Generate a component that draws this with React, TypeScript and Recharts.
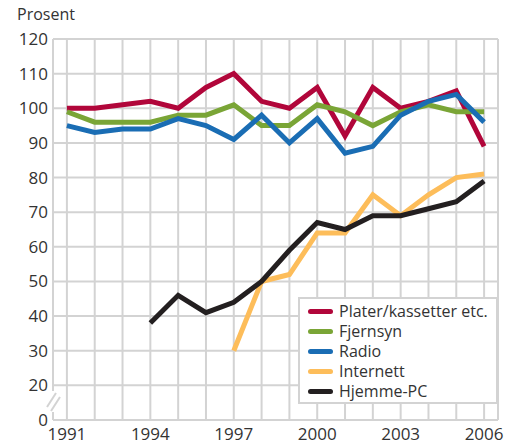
import React from 'react';
import { LineChart, Line, XAxis, YAxis, CartesianGrid } from 'recharts';

const years = [1991, 1992, 1993, 1994, 1995, 1996, 1997, 1998, 1999, 2000, 2001, 2002, 2003, 2004, 2005, 2006];
const plater = [100, 100, 101, 102, 100, 106, 110, 102, 100, 106, 92, 106, 100, 102, 105, 89];
const fjernsyn = [99, 96, 96, 96, 98, 98, 101, 95, 95, 101, 99, 95, 99, 101, 99, 99];
const radio = [95, 93, 94, 94, 97, 95, 91, 98, 90, 97, 87, 89, 98, 102, 104, 96];
const internett = [null, null, null, null, null, null, 30, 50, 52, 64, 64, 75, 69, 75, 80, 81];
const hjemmePc = [null, null, null, 38, 46, 41, 44, 50, 59, 67, 65, 69, 69, 71, 73, 79];

// bottom tick "0" sits where 10 would be (broken axis)
const yTicks = [10, 20, 30, 40, 50, 60, 70, 80, 90, 100, 110, 120];
const xLabels = [1991, 1994, 1997, 2000, 2003, 2006];

const series = [
  { key: 'plater', name: 'Plater/kassetter etc.', color: '#b1063a' },
  { key: 'fjernsyn', name: 'Fjernsyn', color: '#7aa536' },
  { key: 'radio', name: 'Radio', color: '#1a6db4' },
  { key: 'internett', name: 'Internett', color: '#fdbd5a' },
  { key: 'hjemmePc', name: 'Hjemme-PC', color: '#231f20' },
];

const data = years.map((year, i) => ({
  year,
  plater: plater[i],
  fjernsyn: fjernsyn[i],
  radio: radio[i],
  internett: internett[i],
  hjemmePc: hjemmePc[i],
}));

const font = '"Open Sans", "DejaVu Sans", sans-serif';
const gridColor = '#d3d3d3';
const tickStyle = { fill: '#333', fontSize: 17, fontFamily: font };

function LegendBox() {
  return (
    <div
      style={{
        position: 'absolute',
        left: 298,
        top: 297,
        width: 200,
        height: 107,
        border: `2px solid ${gridColor}`,
        background: '#fff',
        padding: '2px 0 0 8px',
        fontFamily: font,
        fontSize: 16,
        color: '#333',
        boxSizing: 'border-box',
      }}
    >
      {series.map((s) => (
        <div key={s.key} style={{ display: 'flex', alignItems: 'center', height: 20 }}>
          <span
            style={{
              display: 'inline-block',
              width: 25,
              height: 5,
              borderRadius: 3,
              background: s.color,
              marginRight: 6,
            }}
          />
          <span>{s.name}</span>
        </div>
      ))}
    </div>
  );
}

export default function App() {
  return (
    <div style={{ position: 'absolute', left: 0, top: 0, width: 513, height: 444, background: '#fff' }}>
      <div style={{ position: 'absolute', left: 17, top: 3, fontFamily: font, fontSize: 16, color: '#333' }}>
        Prosent
      </div>
      <LineChart width={513} height={444} data={data} margin={{ top: 39, right: 15, bottom: 0, left: 0 }}>
        <CartesianGrid stroke={gridColor} strokeWidth={2} />
        <XAxis
          dataKey="year"
          type="number"
          domain={[1990.5, 2006.5]}
          ticks={years}
          interval={0}
          tickFormatter={(v) => (xLabels.includes(v) ? String(v) : '')}
          axisLine={{ stroke: gridColor, strokeWidth: 2 }}
          tickLine={false}
          tickMargin={2}
          height={24}
          tick={tickStyle}
        />
        <YAxis
          type="number"
          domain={[10, 120]}
          ticks={yTicks}
          interval={0}
          tickFormatter={(v) => (v === 10 ? '0' : String(v))}
          axisLine={{ stroke: gridColor, strokeWidth: 2 }}
          tickLine={false}
          tickSize={3}
          tickMargin={2}
          width={53}
          tick={tickStyle}
        />
        {series.map((s) => (
          <Line
            key={s.key}
            dataKey={s.key}
            name={s.name}
            stroke={s.color}
            strokeWidth={5}
            dot={false}
            activeDot={false}
            isAnimationActive={false}
          />
        ))}
      </LineChart>
      <LegendBox />
      <svg width={513} height={444} style={{ position: 'absolute', left: 0, top: 0, pointerEvents: 'none' }}>
        <rect x={49} y={391} width={8} height={21} fill="#fff" />
        <line x1={47} y1={407} x2={56} y2={393} stroke={gridColor} strokeWidth={2} />
        <line x1={51} y1={411} x2={60} y2={397} stroke={gridColor} strokeWidth={2} />
      </svg>
    </div>
  );
}
